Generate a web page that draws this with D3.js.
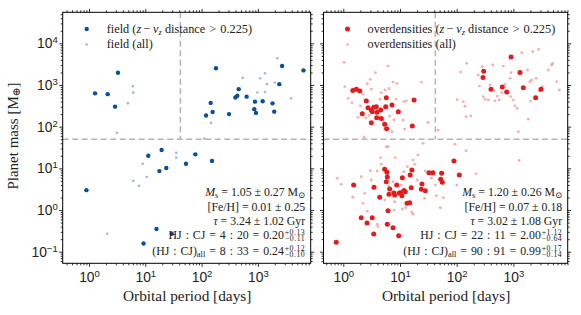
<!DOCTYPE html>
<html><head><meta charset="utf-8">
<script src="https://cdn.jsdelivr.net/npm/d3@7"></script>
<style>
html,body{margin:0;padding:0;background:#fff;}
svg{display:block;font-family:"Liberation Serif","DejaVu Serif",serif;}
</style></head>
<body><svg id="c" width="581" height="315"></svg>
<script>
// ---------------- data ----------------
// Left panel: field stars
const fieldSelP = [1.28,2.15,2.9,3.27,180,120,145,157,307,398,431,456,631,887,863,925,1216,1820,1950,2399,2692,6457,
  0.9,11.3,19.5,17.8,23.6,52.8,77.3,153,15.8,9.3,29.5];
const fieldSelM = [631,603,302,1972,2512,186,372,224,200,501,553,794,525,398,263,214,407,363,229,1047,2851,2239,
  3.0,20,27.5,8.6,10.2,12.9,21.7,15,0.35,0.158,0.27];
const fieldAllP = [6.0,6.1,4.9,3.14,147,537,977,1096,1337,1337,1445,1995,2213,3890,112,9.0,6.1,7.7,10.6,35.5,35.5,2.1];
const fieldAllM = [933,653,363,71,123,1479,661,1445,1905,676,1047,1148,4365,479,52,12.9,5.0,3.8,6.2,23.4,18,0.27];

// Right panel: overdensities
const overSelP = [1.47,1.70,1.95,2.55,5.73,17.7,2.73,3.12,3.44,3.82,3.24,3.93,2.16,4.57,5.60,7.23,9.33,3.88,4.68,3.12,5.37,5.82,16.5,
  908,299,291,1306,403,637,762,1496,3069,2472,
  0.75,1.52,2.07,2.62,3.24,3.44,3.48,4.39,5.37,5.89,5.73,5.97,6.14,5.97,6.40,6.58,7.53,7.83,8.05,8.75,9.73,9.48,11.0,10.8,11.7,12.4,10.3,
  13.3,14.8,15.1,16.2,15.8,23.8,24.4,27.9,32.4,38.0,54.3,52.2,55.6,89.5,111];
const overSelM = [741,794,716,412,495,437,285,251,292,302,229,221,204,251,302,331,229,164,158,124,114,89,104,
  4677,2138,1514,1995,794,891,676,861,794,495,
  0.168,3.98,0.655,0.49,0.655,0.266,3.51,2.02,9.48,8.04,4.79,6.17,0.955,0.457,2.38,3.20,0.376,2.56,2.29,3.98,2.56,0.24,5.98,2.21,2.95,2.75,2.60,
  1.45,1.50,6.92,9.12,3.43,3.14,4.21,2.91,7.85,7.85,7.6,5.46,4.62,15,6.92];
const overAllP = [1.03,1.06,1.21,1.42,6.14,3.67,2.99,2.65,3.12,2.22,2.38,4.44,4.68,5.43,6.40,7.53,8.85,8.49,11.7,12.9,23.8,2.0,1.82,2.48,2.84,
  5.01,6.58,7.83,11.3,5.37,7.23,12.1,31.2,46.8,2.32,
  102,117,131,140,146,177,150,240,282,251,295,316,361,386,432,460,473,520,562,622,664,711,871,908,895,995,1067,1172,1219,1400,1778,1950,2089,2188,2512,2793,2864,1832,2018,4130,4732,4932,5808,6457,3236,
  5.73,6.14,4.57,8.26,4.68,3.98,2.99,0.78,0.92,2.07,3.12,3.34,2.38,1.47,2.22,2.65,3.98,4.09,6.31,7.53,10.5,11.7,13.5,17.0,18.2,20.2,20.7,25.5,27.9,35.6,43.7,51.3,
  17.0,16.2,11.0,12.6,7.83,42.0,27.2,8.05,5.37,93.3,146,1259,219,100,58.1];
const overAllM = [3499,912,479,376,2851,1972,1368,1072,794,603,437,453,653,759,813,1175,1096,453,398,417,1175,316,168,164,186,
  145,180,145,145,91,76,87,126,83,56,
  447,2042,398,309,174,182,3311,1738,2754,944,525,453,437,1000,3020,716,417,543,437,653,2851,1038,1445,1972,525,437,316,275,76,5957,2291,1202,1318,6310,1445,7178,716,151,412,2291,3020,3311,1202,759,912,
  33,33,18,18,12.6,8.63,8.77,5.75,4.14,6.31,5.25,3.31,2.51,2.04,1.45,0.94,0.457,0.40,3.77,4.79,3.98,8.32,11,15.8,12.5,5.25,20.9,39.8,8.63,5.75,2.21,1.14,
  0.79,0.89,1.06,1.14,1.0,3.98,1.91,1.58,1.74,38,26.3,15.5,7.41,3.98,1.98];

const legendLabels = [["field (", "z", "\u2009−\u2009", "v", "z", " distance > 0.225)", "field (all)"],
                      ["overdensities (", "z", "\u2009−\u2009", "v", "z", " distance > 0.225)", "overdensities (all)"]];
const massCut = 50, periodCut = 42;
const xExponents = [0,1,2,3];
const yExponents = [-1,0,1,2,3,4];
const statsLeft  = {ms:"1.05 ± 0.27", feh:"0.01 ± 0.25", tau:"3.24 ± 1.02", hj:["4","20","0.20"], hjUp:"+0.13", hjLo:"−0.11", all:["8","33","0.24"], allUp:"+0.12", allLo:"−0.10"};
const statsRight = {ms:"1.20 ± 0.26", feh:"0.07 ± 0.18", tau:"3.02 ± 1.08", hj:["22","11","2.00"], hjUp:"+1.12", hjLo:"−0.64", all:["90","91","0.99"], allUp:"+0.17", allLo:"−0.14"};

// ---------------- layout ----------------
const svg = d3.select("#c");
const yTop = 12.3, yBot = 263.3;
const y = d3.scaleLog().domain([Math.pow(10,-1.278), Math.pow(10,4.744)]).range([yBot, yTop]);
const panels = [
  {x0:62.7, x1:310.7, dom:[Math.pow(10,-0.467), Math.pow(10,3.938)], selP:fieldSelP, selM:fieldSelM, allP:fieldAllP, allM:fieldAllM,
   dark:"#0a4f9b", light:"#7fa6d6", lightOp:0.75, rSel:2.2, rAll:1.35, leg:legendLabels[0], stats:statsLeft, yLabels:true},
  {x0:323.5, x1:567.7, dom:[Math.pow(10,-0.349), Math.pow(10,3.958)], selP:overSelP, selM:overSelM, allP:overAllP, allM:overAllM,
   dark:"#e41a1c", light:"#f07a7a", lightOp:0.6, rSel:2.5, rAll:1.4, leg:legendLabels[1], stats:statsRight, yLabels:false}
];

function minorTicks(dom){
  const out=[];
  for(let d=-3; d<=5; d++) for(let k=2;k<=9;k++){ const v=k*Math.pow(10,d); if(v>=dom[0]&&v<=dom[1]) out.push(v); }
  return out;
}
const sup = (g, base, exp, size, supSize) => {
  g.append("tspan").text(base).style("font-size", size+"px");
  g.append("tspan").text(exp).attr("dy", -5).style("font-size", supSize+"px");
};
const REL = "\u2004"; // wider math-like space around relations

panels.forEach(p => {
  const x = d3.scaleLog().domain(p.dom).range([p.x0, p.x1]);
  const g = svg.append("g");
  const xMaj = xExponents.map(e => Math.pow(10,e));
  const yMaj = yExponents.map(e => Math.pow(10,e));
  const xMin = minorTicks(p.dom), yMin = minorTicks(y.domain());

  const cid = "clip"+Math.round(p.x0);
  svg.append("clipPath").attr("id",cid).append("rect").attr("x",p.x0).attr("y",yTop).attr("width",p.x1-p.x0).attr("height",yBot-yTop);

  // dashed guides
  const dash = g.append("g").attr("stroke","#b4b4b4").attr("stroke-width",1.5).attr("stroke-dasharray","6,3.5").attr("fill","none");
  dash.append("line").attr("x1",p.x0).attr("x2",p.x1).attr("y1",y(massCut)).attr("y2",y(massCut));
  dash.append("line").attr("x1",x(periodCut)).attr("x2",x(periodCut)).attr("y1",yTop).attr("y2",y(massCut));

  // points
  const pts = g.append("g").attr("clip-path",`url(#${cid})`);
  pts.selectAll("circle.all").data(p.allP.map((v,i)=>[v,p.allM[i]])).join("circle")
    .attr("cx",d=>x(d[0])).attr("cy",d=>y(d[1])).attr("r",p.rAll).attr("fill",p.light).attr("fill-opacity",p.lightOp);
  pts.selectAll("circle.sel").data(p.selP.map((v,i)=>[v,p.selM[i]])).join("circle")
    .attr("cx",d=>x(d[0])).attr("cy",d=>y(d[1])).attr("r",p.rSel).attr("fill",p.dark);

  // axes (ticks outward)
  const mk = (gen, scale, vals, size, tr) => {
    const a = g.append("g").attr("transform",tr)
      .call(gen(scale).tickValues(vals).tickSizeInner(size).tickSizeOuter(0).tickFormat(""));
    a.select(".domain").remove();
    a.selectAll("line").attr("stroke","#000").attr("stroke-width",0.8);
    return a;
  };
  const bot = mk(d3.axisBottom, x, xMaj, 3.5, `translate(0,${yBot})`);
  mk(d3.axisBottom, x, xMin, 2, `translate(0,${yBot})`);
  mk(d3.axisTop, x, xMaj, 3.5, `translate(0,${yTop})`);
  mk(d3.axisTop, x, xMin, 2, `translate(0,${yTop})`);
  const lef = mk(d3.axisLeft, y, yMaj, 3.5, `translate(${p.x0},0)`);
  mk(d3.axisLeft, y, yMin, 2, `translate(${p.x0},0)`);
  mk(d3.axisRight, y, yMaj, 3.5, `translate(${p.x1},0)`);
  mk(d3.axisRight, y, yMin, 2, `translate(${p.x1},0)`);

  bot.selectAll(".tick text").remove();
  bot.selectAll(".tick").each(function(d){
    const t = d3.select(this).append("text").attr("y", 281.7-yBot).attr("text-anchor","middle").attr("fill","#222");
    sup(t, "10", String(Math.round(Math.log10(d))).replace("-","−"), 13.8, 9.5);
  });
  lef.selectAll(".tick text").remove();
  if(p.yLabels){
    lef.selectAll(".tick").each(function(d){
      const t = d3.select(this).append("text").attr("x",-5).attr("y",4.4).attr("text-anchor","end").attr("fill","#222");
      sup(t, "10", String(Math.round(Math.log10(d))).replace("-","−"), 13.8, 9.5);
    });
  }

  // frame
  g.append("rect").attr("x",p.x0).attr("y",yTop).attr("width",p.x1-p.x0).attr("height",yBot-yTop)
    .attr("fill","none").attr("stroke","#000").attr("stroke-width",1);

  // x label
  g.append("text").attr("x",(p.x0+p.x1)/2+0.5).attr("y",301).attr("text-anchor","middle")
    .style("font-size","15.3px").attr("fill","#222").text("Orbital period [days]");

  // legend
  const L = p.leg, lx = p.x0+24, tx = p.x0+44;
  g.append("circle").attr("cx",lx).attr("cy",29).attr("r",p.rSel).attr("fill",p.dark);
  g.append("circle").attr("cx",lx).attr("cy",44.6).attr("r",p.rAll).attr("fill",p.light).attr("fill-opacity",p.lightOp);
  const t1 = g.append("text").attr("x",tx).attr("y",32.6).style("font-size","12.3px").attr("fill","#222");
  t1.append("tspan").text(L[0]);
  t1.append("tspan").text(L[1]).style("font-style","italic");
  t1.append("tspan").text(L[2]);
  t1.append("tspan").text(L[3]).style("font-style","italic");
  t1.append("tspan").text(L[4]).style("font-style","italic").style("font-size","8.5px").attr("dy",2);
  t1.append("tspan").text(L[5].replace(" > ", REL+">"+REL)).attr("dy",-2);
  g.append("text").attr("x",tx).attr("y",48.4).style("font-size","12.3px").attr("fill","#222").text(L[6]);

  // stats annotation (one text element per line; scripts stacked at the end)
  const s = p.stats, xr = p.x1 - 5.5, fs = 11.8, ss = 7.8;
  const line = (yb, build, up, lo) => {
    const t = g.append("text").attr("x",xr).attr("y",yb).attr("text-anchor","end").style("font-size",fs+"px").attr("fill","#222");
    build(t);
    if(up){
      t.append("tspan").text(up).attr("dx",0.8).attr("dy",-4).style("font-size",ss+"px").style("letter-spacing","0.5px");
      t.append("tspan").text(lo).attr("x",xr).attr("dy",6.8).style("font-size",ss+"px").style("letter-spacing","0.5px");
    }
  };
  const c = REL+":"+REL, eq = REL+"="+REL;
  line(196, t => { t.append("tspan").text("M").style("font-style","italic");
    t.append("tspan").text("s").style("font-size","8.5px").attr("dy",2);
    t.append("tspan").text(" = "+s.ms+" M").attr("dy",-2);
    t.append("tspan").text("⊙").style("font-size","8.5px").attr("dy",2); });
  line(211, t => t.text("[Fe/H] = "+s.feh));
  line(225, t => { t.append("tspan").text("τ").style("font-style","italic"); t.append("tspan").text(" = "+s.tau+" Gyr"); });
  line(238.5, t => t.append("tspan").text("HJ"+c+"CJ"+eq+s.hj[0]+c+s.hj[1]+eq+s.hj[2]), s.hjUp, s.hjLo);
  line(254.5, t => { t.append("tspan").text("(HJ"+c+"CJ)");
    t.append("tspan").text("all").style("font-size","8.5px").attr("dy",2);
    t.append("tspan").text(eq+s.all[0]+c+s.all[1]+eq+s.all[2]).attr("dy",-2); }, s.allUp, s.allLo);
});

// y label
svg.append("text").attr("transform","translate(17.5,136) rotate(-90)").attr("text-anchor","middle")
  .style("font-size","15px").attr("fill","#222")
  .call(t => { t.append("tspan").text("Planet mass [M");
               t.append("tspan").text("⊕").style("font-size","10.5px").attr("dy",2.5);
               t.append("tspan").text("]").attr("dy",-2.5); });
</script></body></html>
